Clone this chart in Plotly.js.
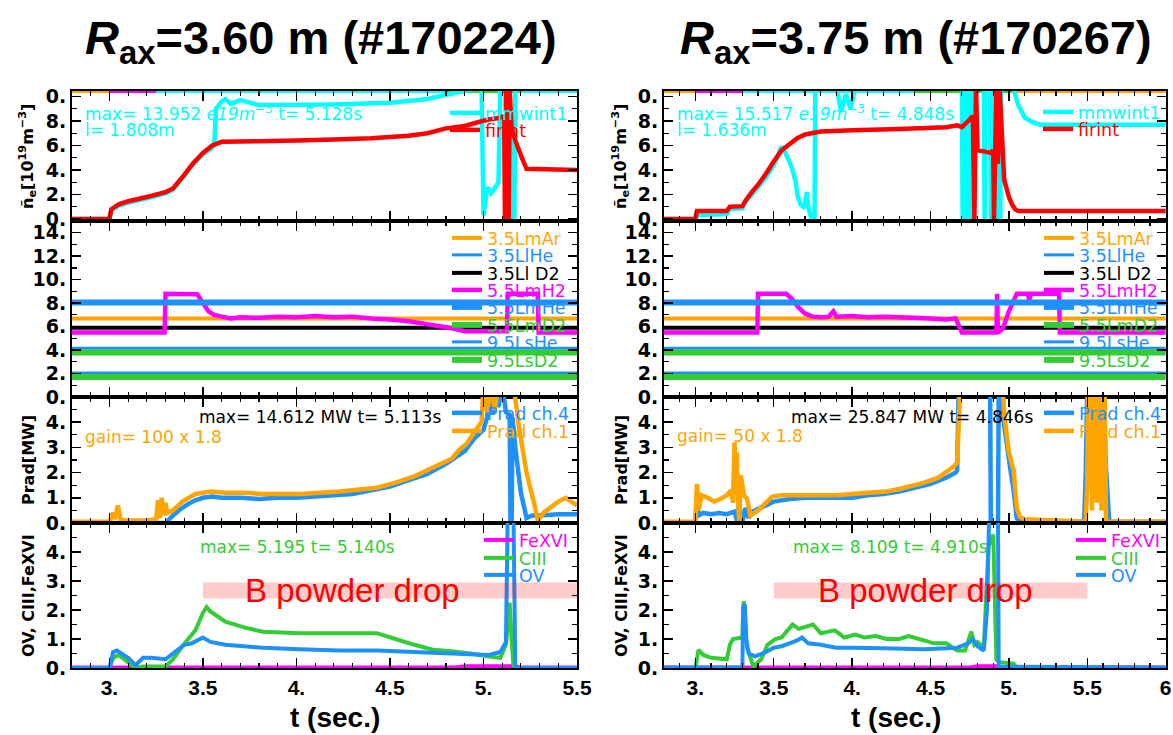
<!DOCTYPE html>
<html><head><meta charset="utf-8">
<script src="https://cdn.plot.ly/plotly-3.0.1.min.js"></script>
<style>html,body{margin:0;padding:0;background:#fff;}#chart{width:1173px;height:735px;}</style>
</head><body><div id="chart"></div>
<script>
// ================= DATA =================
const titleL = '<b><i>R</i><sub>ax</sub>=3.60 m (#170224)</b>';
const titleR = '<b><i>R</i><sub>ax</sub>=3.75 m (#170267)</b>';
const xRangeL = [2.8, 5.5];
const xRangeR = [2.8, 6.0];
const xTickValsL = [3, 3.5, 4, 4.5, 5, 5.5];
const xTickTextL = ['3.', '3.5', '4.', '4.5', '5.', '5.5'];
const xTickValsR = [3, 3.5, 4, 4.5, 5, 5.5, 6];
const xTickTextR = ['3.', '3.5', '4.', '4.5', '5.', '5.5', '6'];
const yTickVals1 = [0, 2, 4, 6, 8, 10];
const yTickText1 = ['0.', '2.', '4.', '6.', '8.', '0.'];
const yTickVals2 = [0, 2, 4, 6, 8, 10, 12, 14];
const yTickText2 = ['0.', '2.', '4.', '6.', '8.', '10.', '12.', '14.'];
const yTickVals34 = [0, 1, 2, 3, 4];
const yTickText34 = ['0.', '1.', '2.', '3.', '4.'];
const yRange1 = [-0.16, 10.45];
const yRange2 = [0, 15];
const yRange3 = [0, 5];
const yRange4 = [0, 5];
const edgeLevel = 10.45;   // traces running along the top frame of panel 1

// ---- left shot #170224 ----
const tFirL = [2.8,3.0,3.01,3.05,3.1,3.2,3.3,3.34,3.4,3.45,3.5,3.55,3.6,3.8,4.0,4.2,4.4,4.6,4.7,4.8,4.85,4.9,4.97,5.02,5.08,5.11,5.115,5.12,5.125,5.13,5.135,5.14,5.15,5.17,5.2,5.23,5.5];
const vFirL = [0,0,0.8,1.2,1.45,1.8,2.2,2.5,3.6,4.6,5.4,6.0,6.3,6.35,6.4,6.5,6.6,6.8,7.0,7.4,7.5,7.6,7.9,8.1,8.25,8.4,0,10.6,5,10.6,0,10.6,7.5,6.4,5.2,4.1,4.0];
const tMmwL = [2.8,3.0,3.01,3.05,3.1,3.2,3.3,3.34,3.4,3.45,3.5,3.54,3.56,3.57,3.6,3.62,3.65,3.7,3.75,3.8,3.9,4.2,4.5,4.7,4.85,4.95,4.99,5.0,5.02,5.04,5.06,5.08,5.09,5.14,5.15,5.165,5.17,5.5];
const vMmwL = [0,0,0.7,1.1,1.35,1.7,2.1,2.4,3.5,4.5,5.3,5.7,6.0,9.0,9.6,9.8,9.4,9.7,9.5,9.3,9.3,9.35,9.5,9.8,10.3,10.6,10.6,0.3,2.6,2.1,2.5,3.0,10.6,10.6,0,0,10.6,10.6];
const tEdgeOrangeL = [2.8, 3.0];
const tEdgeMagentaL = [3.0, 3.25];
const tEdgeCyanL = [3.25, 5.5];
const tEdgeGreenL = [4.8, 5.2];

const tConstL = [2.8, 5.5];
const vMArL = [6.7, 6.7];
const vLHeL = [4.15, 4.15];
const vLD2L = [5.9, 5.9];
const vMHeL = [8.05, 8.05];
const vMD2L = [3.8, 3.8];
const vSHeL = [2.05, 2.05];
const vSD2L = [1.7, 1.7];
const tMH2L = [2.8,3.295,3.3,3.47,3.5,3.53,3.56,3.6,3.65,3.7,3.8,3.9,4.0,4.1,4.2,4.3,4.4,4.5,4.6,4.7,4.8,4.85,4.9,5.125,5.13,5.29,5.295,5.5];
const vMH2L = [5.5,5.5,8.8,8.75,8.0,7.3,7.0,6.85,6.7,6.8,6.75,6.85,6.8,6.9,6.8,6.85,6.7,6.6,6.45,6.2,5.95,5.8,5.6,5.6,8.8,8.8,5.5,5.5];

const tPr4L = [2.8,3.3,3.34,3.38,3.42,3.46,3.5,3.55,3.6,3.7,3.8,3.9,4.0,4.1,4.2,4.3,4.4,4.5,4.6,4.7,4.8,4.85,4.9,4.95,5.0,5.02,5.03,5.05,5.06,5.08,5.1,5.12,5.14,5.145,5.15,5.155,5.17,5.2,5.23,5.26,5.3,5.4,5.5];
const vPr4L = [0,0,0.3,0.55,0.75,0.9,1.0,1.05,1.0,1.0,0.95,1.0,1.0,1.05,1.1,1.15,1.3,1.45,1.7,1.95,2.35,2.6,2.85,3.35,3.7,4.2,5.5,4.3,5.5,4.6,5.5,4.4,4.3,-0.5,-0.5,4.2,3.0,1.2,0.2,0.3,0.3,0.35,0.35];
const tPr1L = [2.8,3.0,3.02,3.03,3.045,3.06,3.08,3.2,3.25,3.26,3.27,3.28,3.29,3.3,3.31,3.34,3.39,3.46,3.54,3.62,3.72,3.82,4.02,4.23,4.43,4.53,4.63,4.73,4.83,4.87,4.91,4.95,4.99,5.0,5.02,5.04,5.06,5.08,5.1,5.16,5.19,5.23,5.27,5.29,5.32,5.4,5.44,5.5];
const vPr1L = [0.05,0.05,0.4,0.15,0.7,0.15,0.1,0.1,0.15,0.9,0.2,1.0,0.3,0.8,0.4,0.5,0.85,1.15,1.25,1.2,1.2,1.15,1.15,1.25,1.4,1.6,1.85,2.2,2.55,2.9,3.15,3.6,4.0,5.5,4.4,5.5,4.5,5.5,5.5,5.5,3.8,2.0,0.8,0.1,0.4,0.85,1.0,0.7];

const tFeL = [2.8,4.85,4.9,5.15,5.2,5.5];
const vFeL = [0.02,0.02,0.06,0.06,0.02,0.02];
const tCIIIL = [2.8,3.0,3.02,3.05,3.08,3.14,3.18,3.22,3.3,3.34,3.39,3.46,3.5,3.52,3.54,3.62,3.72,3.82,4.02,4.23,4.33,4.43,4.53,4.63,4.73,4.83,4.93,5.03,5.09,5.12,5.14,5.15,5.16,5.17,5.5];
const vCIIIL = [0,0,0.35,0.45,0.3,0.0,0.05,0.05,0.05,0.3,0.75,1.3,1.9,2.1,1.95,1.6,1.4,1.25,1.2,1.2,1.2,1.2,1.0,0.8,0.63,0.58,0.5,0.4,0.35,0.8,2.25,1.0,0.1,0,0];
const tOVL = [2.8,3.0,3.02,3.04,3.1,3.14,3.18,3.22,3.3,3.36,3.4,3.44,3.5,3.54,3.62,3.82,4.02,4.23,4.43,4.63,4.83,5.03,5.09,5.12,5.13,5.16,5.17,5.5];
const vOVL = [0,0,0.55,0.6,0.35,0.1,0.35,0.35,0.3,0.6,0.8,0.85,1.05,0.9,0.8,0.7,0.65,0.6,0.6,0.55,0.5,0.45,0.55,0.9,5.5,5.5,0,0];

// ---- right shot #170267 ----
const tFirR = [2.8,3.0,3.01,3.2,3.22,3.3,3.32,3.36,3.4,3.45,3.5,3.55,3.6,3.65,3.7,3.8,4.0,4.3,4.6,4.67,4.7,4.74,4.77,4.78,4.79,4.8,4.85,4.88,4.9,4.905,4.92,4.93,4.94,4.97,5.0,5.02,5.04,5.06,6.0];
const vFirR = [0,0,0.65,0.65,1.0,1.05,1.5,2.2,2.8,3.7,4.7,5.6,6.1,6.6,6.9,7.15,7.25,7.35,7.5,7.65,7.5,8.0,8.4,0,10.8,5.6,5.5,5.4,5.6,0,10.8,4.5,10.8,3.2,1.8,1.2,0.8,0.65,0.65];
const tMmwR = [2.8,3.0,3.01,3.2,3.22,3.3,3.32,3.36,3.4,3.45,3.5,3.54,3.55,3.57,3.6,3.62,3.64,3.65,3.67,3.69,3.7,3.71,3.72,3.74,3.76,3.765,3.9,3.93,3.96,3.99,4.02,4.7,4.705,4.715,4.725,4.735,4.745,4.755,4.76,4.765,4.84,4.845,4.85,4.88,4.885,4.895,4.905,4.915,4.925,4.935,4.945,4.95,5.0,5.03,5.06,5.1,5.15,5.2,6.0];
const vMmwR = [0,0,0.3,0.4,0.8,0.9,1.4,2.0,2.6,3.4,4.4,5.6,5.9,5.5,4.7,4.0,3.0,2.0,1.2,1.0,1.3,2.2,1.0,0,0,10.8,10.8,8.8,10.2,9.0,10.8,10.8,0,10.8,0,10.8,0,10.8,0,10.8,10.8,0,10.8,10.8,0,10.8,0,10.8,0,10.8,0,10.8,10.8,10.6,9.3,8.3,7.9,7.7,7.7];
const tEdgeOrangeR1 = [2.8, 3.0];
const tEdgeMagentaR = [3.0, 3.3];
const tEdgeCyanR = [3.3, 4.9];
const tEdgeGreenR = [4.4, 5.05];
const tEdgeOrangeR2 = [5.05, 6.0];

const tConstR = [2.8, 6.0];
const vMArR = [6.7, 6.7];
const vLHeR = [4.15, 4.15];
const vLD2R = [5.9, 5.9];
const vMHeR = [8.05, 8.05];
const vMD2R = [3.8, 3.8];
const vSHeR = [2.05, 2.05];
const vSD2R = [1.7, 1.7];
const tMH2R = [2.8,3.395,3.4,3.58,3.62,3.66,3.7,3.75,3.8,3.85,3.88,3.9,4.0,4.1,4.2,4.3,4.4,4.5,4.6,4.66,4.7,4.92,4.925,4.93,4.96,5.0,5.05,5.12,5.13,5.14,5.32,5.325,6.0];
const vMH2R = [5.5,5.5,8.8,8.8,8.3,7.6,7.1,6.85,6.8,6.85,7.3,6.85,6.9,6.8,6.85,6.8,6.75,6.7,6.6,6.7,5.5,5.5,8.8,5.5,5.8,7.3,8.8,8.8,8.3,8.8,8.8,5.5,5.5];

const tPr4R = [2.8,3.0,3.01,3.02,3.05,3.1,3.15,3.2,3.25,3.27,3.28,3.29,3.3,3.32,3.34,3.36,3.4,3.45,3.5,3.6,3.7,3.9,4.0,4.1,4.2,4.3,4.4,4.5,4.6,4.66,4.67,4.68,4.88,4.885,4.93,4.935,4.96,4.99,5.01,5.03,5.05,5.07,5.48,5.49,5.5,5.6,5.62,5.64,6.0];
const vPr4R = [0,0,1.1,0.3,0.4,0.35,0.4,0.35,0.45,0.0,0.9,0.1,0.05,0.6,0.2,0.45,0.55,0.7,0.85,0.95,1.0,1.0,1.0,1.1,1.15,1.25,1.4,1.55,1.8,2.0,2.1,5.5,5.5,-0.5,-0.5,5.5,4.3,3.0,2.1,1.3,0.2,0.05,0.05,2.0,5.5,5.5,2.1,0.05,0.05];
const tPr1R = [2.8,3.0,3.01,3.02,3.04,3.08,3.12,3.16,3.2,3.23,3.24,3.25,3.26,3.265,3.27,3.28,3.29,3.31,3.33,3.35,3.4,3.45,3.49,3.55,3.7,3.9,4.0,4.1,4.22,4.3,4.46,4.55,4.65,4.67,4.69,4.96,4.97,5.0,5.03,5.05,5.07,5.1,5.3,5.49,5.5,5.505,5.515,5.52,5.53,5.535,5.545,5.55,5.56,5.565,5.575,5.58,5.59,5.595,5.605,5.61,5.62,6.0];
const vPr1R = [0.05,0.05,1.55,0.5,1.1,1.0,0.85,0.95,1.1,1.3,0.8,3.2,1.5,2.8,1.2,0.05,1.9,1.1,0.95,0.3,0.5,0.8,1.05,1.1,1.1,1.1,1.15,1.2,1.25,1.35,1.6,1.8,2.25,2.4,5.5,5.5,4.3,2.8,2.1,0.6,0.25,0.15,0.1,0.05,1.7,5.5,2.0,5.5,0.5,5.5,1.0,5.5,0.8,5.5,1.2,5.5,0.5,5.5,1.0,5.5,0.05,0.05];

const tFeR = [2.8,4.75,4.8,4.93,4.95,6.0];
const vFeR = [0.02,0.02,0.06,0.06,0.02,0.02];
const tCIIIR = [2.8,3.0,3.02,3.05,3.1,3.2,3.22,3.24,3.3,3.305,3.31,3.32,3.33,3.37,3.42,3.46,3.51,3.55,3.62,3.66,3.75,3.8,3.89,3.95,4.02,4.08,4.15,4.22,4.3,4.36,4.46,4.52,4.6,4.67,4.72,4.76,4.78,4.8,4.84,4.86,4.87,4.9,4.92,4.94,5.03,5.05,6.0];
const vCIIIR = [0,0,0.63,0.45,0.35,0.3,0.8,1.0,1.05,2.0,2.3,1.2,0.7,0.05,0.3,0.8,1.0,1.05,1.5,1.35,1.5,1.2,1.3,1.05,1.15,1.05,1.1,1.0,1.0,1.1,0.95,0.85,0.85,0.6,0.6,1.25,0.8,0.9,0.7,3.0,4.2,4.6,0.3,0.2,0.15,0,0];
const tOVR = [2.8,3.3,3.305,3.315,3.325,3.34,3.38,3.45,3.5,3.55,3.6,3.65,3.68,3.72,3.8,3.9,4.0,4.2,4.46,4.67,4.74,4.77,4.8,4.84,4.86,4.875,4.93,4.935,6.0];
const vOVR = [0.02,0.02,2.1,2.2,1.0,0.5,0.4,0.55,0.7,0.75,0.85,0.95,1.05,0.85,0.8,0.7,0.7,0.68,0.65,0.7,0.85,1.0,0.75,0.6,2.0,5.5,5.5,0.05,0.02];

// B powder drop band (time, signal level)
const powderT = [3.5, 5.5];
const powderV = [2.4, 2.95];

// ================= STYLE / LAYOUT =================
const W = 1173, H = 735;
const fx = p => p / W, fy = p => 1 - p / H;
const COL = {cyan:'#00ffff', red:'#ff0000', orange:'#ffa500', blue:'#1e90ff', black:'#000000', magenta:'#ff00ff', green:'#32cd32'};
const ARIAL = "'Liberation Sans', Arial, sans-serif";
const SANS = "'DejaVu Sans', Verdana, sans-serif";

const cols = [{x0:72, x1:577, range:xRangeL, tv:xTickValsL, tt:xTickTextL},
              {x0:664, x1:1166, range:[xRangeR[0], xRangeR[1] + 0.002], tv:xTickValsR, tt:xTickTextR}];
const rows = [{y0:91, y1:221, range:yRange1, tv:yTickVals1, tt:yTickText1, minor:1},
              {y0:221, y1:397, range:yRange2, tv:yTickVals2, tt:yTickText2, minor:1},
              {y0:397, y1:523, range:yRange3, tv:yTickVals34, tt:yTickText34, minor:0.5},
              {y0:523, y1:668, range:yRange4, tv:yTickVals34, tt:yTickText34, minor:0.5}];

const layout = {
  width: W, height: H, margin: {l:0, r:0, t:0, b:0},
  paper_bgcolor: '#ffffff', plot_bgcolor: '#ffffff',
  showlegend: true, annotations: [], shapes: []
};
const idOf = k => (k === 1 ? '' : String(k));

cols.forEach((c, ci) => {
  rows.forEach((r, ri) => {
    const k = ci * 4 + ri + 1;
    const base = ci * 4 + 1;
    const xa = {
      domain: [fx(c.x0), fx(c.x1)], range: c.range.slice(), anchor: 'y' + idOf(k),
      tickmode: 'array', tickvals: c.tv, ticktext: c.tt,
      ticks: 'inside', ticklen: 10, tickwidth: 1.5, tickcolor: '#000',
      minor: {tickmode: 'linear', tick0: 2.8, dtick: 0.1, ticks: 'inside', ticklen: 5, tickwidth: 1.2, tickcolor: '#000'},
      showline: true, linecolor: '#000', linewidth: 2, mirror: 'ticks',
      showgrid: false, zeroline: false, fixedrange: true,
      showticklabels: ri === 3,
      tickfont: {family: ARIAL, size: 21, weight: 'bold', color: '#000'}
    };
    if (k !== base) xa.matches = 'x' + idOf(base);
    const ya = {
      domain: [fy(r.y1), fy(r.y0)], range: r.range.slice(), anchor: 'x' + idOf(k),
      tickmode: 'array', tickvals: r.tv, ticktext: r.tt,
      ticks: 'inside', ticklen: 9, tickwidth: 1.5, tickcolor: '#000',
      minor: {tickmode: 'linear', tick0: 0, dtick: r.minor, ticks: 'inside', ticklen: 5, tickwidth: 1.2, tickcolor: '#000'},
      showline: true, linecolor: '#000', linewidth: 2, mirror: 'ticks',
      showgrid: false, zeroline: false, fixedrange: true,
      tickfont: {family: SANS, size: 19, weight: 'bold', color: '#000'}
    };
    layout['xaxis' + idOf(k)] = xa;
    layout['yaxis' + idOf(k)] = ya;
  });
});

// ---------- traces ----------
const traces = [];
let legendCount = 0;
function line(k, x, y, color, width, name) {
  const t = {type: 'scatter', mode: 'lines', x: x, y: y,
    xaxis: 'x' + idOf(k), yaxis: 'y' + idOf(k),
    line: {color: color, width: width, simplify: false},
    name: name || '', showlegend: false, hoverinfo: 'skip'};
  traces.push(t);
  return t;
}
function legendFor(t, symX, yPx, color) {
  legendCount += 1;
  const id = legendCount === 1 ? 'legend' : 'legend' + legendCount;
  t.legend = id; t.showlegend = true;
  layout[id] = {x: fx(symX - 8), y: fy(yPx), xanchor: 'left', yanchor: 'middle',
    bgcolor: 'rgba(0,0,0,0)', borderwidth: 0, itemwidth: 30, tracegroupgap: 0,
    itemclick: false, itemdoubleclick: false,
    font: {family: SANS, size: 17.5, color: color}};
}
const same = (arr, v) => arr.map(() => v);

// ---- LEFT ----
line(1, tEdgeOrangeL, same(tEdgeOrangeL, edgeLevel), COL.orange, 4);
line(1, tEdgeMagentaL, same(tEdgeMagentaL, edgeLevel), COL.magenta, 4);
line(1, tEdgeCyanL, same(tEdgeCyanL, edgeLevel), COL.cyan, 4);
line(1, tEdgeGreenL, same(tEdgeGreenL, edgeLevel), COL.green, 4);
legendFor(line(1, tMmwL, vMmwL, COL.cyan, 4.5, 'mmwint1'), 453, 113, COL.cyan);
legendFor(line(1, tFirL, vFirL, COL.red, 4.5, 'firint'), 453, 130, COL.red);

const p2L = [
  [vMArL, COL.orange, 4, '3.5LmAr'], [vLHeL, COL.blue, 3, '3.5LlHe'], [vLD2L, COL.black, 4, '3.5Ll D2'],
  [null, COL.magenta, 4.5, '5.5LmH2'], [vMHeL, COL.blue, 6, '5.5LmHe'], [vMD2L, COL.green, 6, '5.5LmD2'],
  [vSHeL, COL.blue, 3, '9.5LsHe'], [vSD2L, COL.green, 6, '9.5LsD2']];
const p2LegY = [238, 255, 273, 290, 307, 325, 342, 360];
p2L.forEach((d, i) => {
  const t = d[0] ? line(2, tConstL, d[0], d[1], d[2], d[3]) : line(2, tMH2L, vMH2L, d[1], d[2], d[3]);
  legendFor(t, 455, p2LegY[i], d[1]);
});
legendFor(line(3, tPr4L, vPr4L, COL.blue, 4.5, 'Prad ch.4'), 455, 413, COL.blue);
legendFor(line(3, tPr1L, vPr1L, COL.orange, 4.5, 'Prad ch.1'), 455, 431, COL.orange);
legendFor(line(4, tFeL, vFeL, COL.magenta, 4, 'FeXVI'), 487, 540, COL.magenta);
legendFor(line(4, tCIIIL, vCIIIL, COL.green, 4, 'CIII'), 487, 558, COL.green);
legendFor(line(4, tOVL, vOVL, COL.blue, 4, 'OV'), 487, 575, COL.blue);

// ---- RIGHT ----
line(5, tEdgeOrangeR1, same(tEdgeOrangeR1, edgeLevel), COL.orange, 4);
line(5, tEdgeMagentaR, same(tEdgeMagentaR, edgeLevel), COL.magenta, 4);
line(5, tEdgeCyanR, same(tEdgeCyanR, edgeLevel), COL.cyan, 4);
line(5, tEdgeGreenR, same(tEdgeGreenR, edgeLevel), COL.green, 4);
line(5, tEdgeOrangeR2, same(tEdgeOrangeR2, edgeLevel), COL.orange, 4);
legendFor(line(5, tMmwR, vMmwR, COL.cyan, 4.5, 'mmwint1'), 1046, 112, COL.cyan);
legendFor(line(5, tFirR, vFirR, COL.red, 4.5, 'firint'), 1046, 129, COL.red);

const p2R = [
  [vMArR, COL.orange, 4, '3.5LmAr'], [vLHeR, COL.blue, 3, '3.5LlHe'], [vLD2R, COL.black, 4, '3.5Ll D2'],
  [null, COL.magenta, 4.5, '5.5LmH2'], [vMHeR, COL.blue, 6, '5.5LmHe'], [vMD2R, COL.green, 6, '5.5LmD2'],
  [vSHeR, COL.blue, 3, '9.5LsHe'], [vSD2R, COL.green, 6, '9.5LsD2']];
p2R.forEach((d, i) => {
  const t = d[0] ? line(6, tConstR, d[0], d[1], d[2], d[3]) : line(6, tMH2R, vMH2R, d[1], d[2], d[3]);
  legendFor(t, 1047, p2LegY[i], d[1]);
});
legendFor(line(7, tPr4R, vPr4R, COL.blue, 4.5, 'Prad ch.4'), 1047, 413, COL.blue);
legendFor(line(7, tPr1R, vPr1R, COL.orange, 4.5, 'Prad ch.1'), 1047, 431, COL.orange);
legendFor(line(8, tFeR, vFeR, COL.magenta, 4, 'FeXVI'), 1079, 540, COL.magenta);
legendFor(line(8, tCIIIR, vCIIIR, COL.green, 4, 'CIII'), 1079, 558, COL.green);
legendFor(line(8, tOVR, vOVR, COL.blue, 4, 'OV'), 1079, 575, COL.blue);

// ---------- B powder drop bands ----------
[4, 8].forEach(k => {
  layout.shapes.push({type: 'rect', xref: 'x' + idOf(k), yref: 'y' + idOf(k),
    x0: powderT[0], x1: powderT[1], y0: powderV[0], y1: powderV[1],
    fillcolor: 'rgba(255,0,0,0.2)', line: {width: 0}, layer: 'above'});
});

// ---------- annotations ----------
function ann(text, xPx, yPx, opts) {
  layout.annotations.push(Object.assign({
    text: text, xref: 'paper', yref: 'paper', x: fx(xPx), y: fy(yPx),
    xanchor: 'left', yanchor: 'middle', showarrow: false,
    font: {family: SANS, size: 17, color: '#000'}
  }, opts || {}));
}
ann(titleL, 321, 41, {xanchor: 'center', font: {family: ARIAL, size: 47, color: '#000'}});
ann(titleR, 916, 41, {xanchor: 'center', font: {family: ARIAL, size: 47, color: '#000'}});
ann('<b>t (sec.)</b>', 335, 717, {xanchor: 'center', font: {family: ARIAL, size: 28, color: '#000'}});
ann('<b>t (sec.)</b>', 896, 717, {xanchor: 'center', font: {family: ARIAL, size: 28, color: '#000'}});

const yTitleFont = {family: SANS, size: 16, weight: 'bold', color: '#000'};
[28, 621].forEach(xp => {
  ann('<b>ñ<sub>e</sub>[10<sup>19</sup>m<sup>−3</sup>]</b>', xp, 157, {xanchor: 'center', textangle: -90, font: yTitleFont});
  ann('<b>Prad[MW]</b>', xp, 460, {xanchor: 'center', textangle: -90, font: yTitleFont});
  ann('<b>OV, CIII,FeXVI</b>', xp, 596, {xanchor: 'center', textangle: -90, font: yTitleFont});
});

ann('max= 13.952 <i>e19m</i><sup>−3</sup> t= 5.128s', 83, 113, {font: {family: SANS, size: 17, color: COL.cyan}});
ann('l= 1.808m', 83, 130, {font: {family: SANS, size: 17, color: COL.cyan}});
ann('max= 14.612 MW t= 5.113s', 320, 417, {xanchor: 'center'});
ann('gain= 100 x 1.8', 83, 437, {font: {family: SANS, size: 17, color: COL.orange}});
ann('max= 5.195 t= 5.140s', 297, 547, {xanchor: 'center', font: {family: SANS, size: 17, color: COL.green}});
ann('B powder drop', 352, 590, {xanchor: 'center', font: {family: ARIAL, size: 33, color: COL.red}});

ann('max= 15.517 <i>e19m</i><sup>−3</sup> t= 4.848s', 675, 113, {font: {family: SANS, size: 17, color: COL.cyan}});
ann('l= 1.636m', 675, 130, {font: {family: SANS, size: 17, color: COL.cyan}});
ann('max= 25.847 MW t= 4.846s', 912, 417, {xanchor: 'center'});
ann('gain= 50 x 1.8', 675, 436, {font: {family: SANS, size: 17, color: COL.orange}});
ann('max= 8.109 t= 4.910s', 890, 547, {xanchor: 'center', font: {family: SANS, size: 17, color: COL.green}});
ann('B powder drop', 925, 590, {xanchor: 'center', font: {family: ARIAL, size: 33, color: COL.red}});

Plotly.newPlot('chart', traces, layout, {displayModeBar: false, staticPlot: true});
</script>
</body></html>
